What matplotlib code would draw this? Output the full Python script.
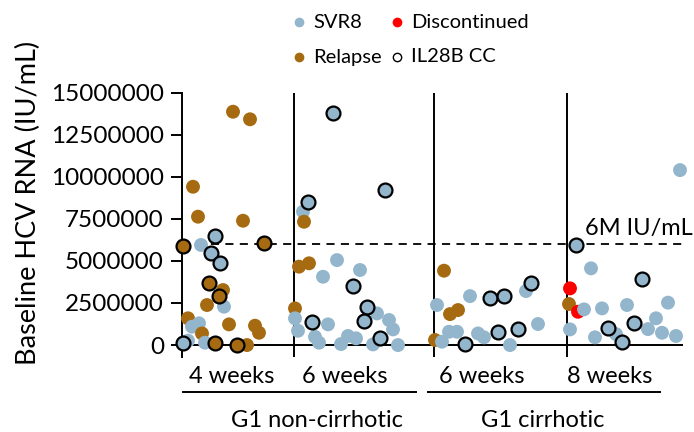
import matplotlib.pyplot as plt

plt.rcParams['font.family'] = ['Lato', 'DejaVu Sans']

# Baseline HCV RNA in millions IU/mL; x = horizontal position inside the panel
# outcome: S = SVR8, R = relapse, D = discontinued ; cc: 1 = IL28B CC genotype
nc4_x   = [1, 19, 33, 82, 29, 38, 27, 41, 37, 25, 42, 6, 17, 10, 20, 47, 73, 77, 1, 6, 23, 33, 55, 65, 51, 68, 11, 16, 61]
nc4_val = [5.89, 5.95, 6.48, 6.05, 5.45, 4.86, 3.70, 3.27, 2.91, 2.38, 2.28, 1.59, 1.29, 1.09, 0.69,
           1.23, 1.15, 0.73, 0.14, 0.26, 0.14, 0.10, 0.0, 0.0, 13.87, 13.42, 9.41, 7.63, 7.39]
nc4_out = "RSSRSSRRRRSRSSRRRRSSSRRRRRRRR"
nc4_cc  = [1, 0, 1, 1, 1, 1, 1, 0, 1, 0, 0, 0, 0, 0, 0, 0, 0, 0, 1, 0, 0, 1, 1, 0, 0, 0, 0, 0, 0]

nc6_x   = [117, 127, 155, 141, 178, 171, 113, 185, 195, 182, 113, 130, 146, 207, 211, 116, 133, 137, 159,
           166, 174, 198, 191, 216, 151, 203, 126, 121, 122]
nc6_val = [4.66, 4.86, 5.05, 4.06, 4.46, 3.51, 2.18, 2.28, 1.88, 1.43, 1.59, 1.39, 1.23, 1.49, 0.93, 0.85,
           0.49, 0.14, 0.06, 0.54, 0.40, 0.40, 0.04, 0.0, 13.78, 9.22, 8.52, 7.93, 7.33]
nc6_out = "RRSSSSRSSSSSSSSSSSSSSSSSSSSSR"
nc6_cc  = [0, 0, 0, 0, 0, 1, 0, 1, 0, 1, 0, 1, 0, 0, 0, 0, 0, 0, 0, 0, 0, 1, 0, 0, 1, 1, 1, 0, 0]

c6_x   = [262, 255, 268, 276, 288, 308, 322, 344, 349, 267, 275, 253, 260, 283, 296, 302, 316, 328, 336, 356]
c6_val = [4.42, 2.38, 1.84, 2.08, 2.91, 2.81, 2.91, 3.21, 3.67, 0.79, 0.79, 0.30, 0.20, 0.06, 0.69, 0.46,
          0.79, 0.0, 0.93, 1.25]
c6_out = "RSRRSSSSSSSRSSSSSSSS"
c6_cc  = [0, 0, 0, 0, 0, 1, 1, 0, 1, 0, 0, 0, 0, 1, 0, 0, 1, 0, 1, 0]

c8_x   = [394, 409, 460, 388, 387, 396, 402, 420, 445, 486, 388, 413, 426, 434, 440, 452, 466, 474, 480, 494, 498]
c8_val = [5.95, 4.56, 3.90, 3.37, 2.44, 1.98, 2.12, 2.18, 2.38, 2.52, 0.93, 0.46, 1.03, 0.65, 0.16, 1.29,
          0.95, 1.59, 0.73, 0.54, 10.4]
c8_out = "SSSDRDSSSSSSSSSSSSSSS"
c8_cc  = [1, 0, 1, 0, 0, 0, 0, 0, 0, 0, 0, 0, 1, 0, 1, 1, 0, 0, 0, 0, 0]

dividers = [112, 252, 385]
x_end = 501
threshold = 6.0
week_labels = ["4 weeks", "6 weeks", "6 weeks", "8 weeks"]
week_pos = [50, 163, 300, 428]
cohort_labels = ["G1 non-cirrhotic", "G1 cirrhotic"]
cohort_pos = [135, 361]
cohort_span = [(1, 234), (246, 478)]

colors = {"S": "#93b6cc", "R": "#a66b11", "D": "#ff0000"}

W, H = 694, 432
fig = plt.figure(figsize=(W / 100, H / 100), dpi=100)
ax = fig.add_axes([182 / W, (H - 357) / H, 501 / W, (357 - 92.7) / H])

groups = [(nc4_x, nc4_val, nc4_out, nc4_cc), (nc6_x, nc6_val, nc6_out, nc6_cc),
          (c6_x, c6_val, c6_out, c6_cc), (c8_x, c8_val, c8_out, c8_cc)]

# plain dots first, IL28B CC (outlined) dots on top
for edged in (0, 1):
    for xs, vals, outs, ccs in groups:
        for x, v, o, cc in zip(xs, vals, outs, ccs):
            if cc != edged:
                continue
            ax.scatter(x, v * 1e6, s=100, color=colors[o],
                       edgecolor="black" if cc else "none", linewidth=1.6 if cc else 0,
                       zorder=3 + edged, clip_on=False)

ax.set_xlim(0, x_end)
ax.set_ylim(-0.71e6, 15e6)
ax.set_yticks([i * 2.5e6 for i in range(7)])
ax.set_yticklabels([f"{int(i * 2500000)}" for i in range(7)])
ax.set_xticks([])
for s in ["top", "right", "bottom"]:
    ax.spines[s].set_visible(False)
ax.spines["left"].set_linewidth(1.4)
ax.tick_params(axis="y", length=8, width=1.4, pad=5, labelsize=17.5)
ax.axhline(0, color="black", lw=1.4, zorder=2)
for d in dividers:
    ax.axvline(d, color="black", lw=1.4, zorder=2)
ax.axhline(threshold * 1e6, color="black", lw=1.3, ls=(0, (4.5, 3.5)), zorder=2)
ax.text(403, 6.54e6, "6M IU/mL", fontsize=17, ha="left", va="baseline")

fig.text(28 / W, (H - 203) / H, "Baseline HCV RNA (IU/mL)", rotation=90,
         ha="center", va="center", fontsize=19.5)

# group labels under the axis
for lab, xp in zip(week_labels, week_pos):
    fig.text((182 + xp) / W, (H - 383) / H, lab, fontsize=17, ha="center", va="baseline")
for lab, xp, (a, b) in zip(cohort_labels, cohort_pos, cohort_span):
    fig.text((182 + xp) / W, (H - 427) / H, lab, fontsize=17, ha="center", va="baseline")
    fig.add_artist(plt.Line2D([(182 + a) / W, (182 + b) / W], [(H - 392) / H] * 2,
                              color="black", lw=1.4))

# legend
leg_items = [("SVR8", 299, 22, colors["S"], "none"), ("Discontinued", 397, 22, colors["D"], "none"),
             ("Relapse", 299, 57, colors["R"], "none"), ("IL28B CC", 397, 57, "white", "black")]
for lab, mx, my, fc, ec in leg_items:
    fig.add_artist(plt.Line2D([mx / W], [(H - my) / H], marker="o",
                              markersize=7 if ec == "none" else 6,
                              markerfacecolor=fc, markeredgecolor=ec, markeredgewidth=1.0, ls="none"))
    fig.text((mx + 14) / W, (H - my) / H, lab, fontsize=14.5, ha="left", va="center")

fig.savefig("out.png", dpi=100)
